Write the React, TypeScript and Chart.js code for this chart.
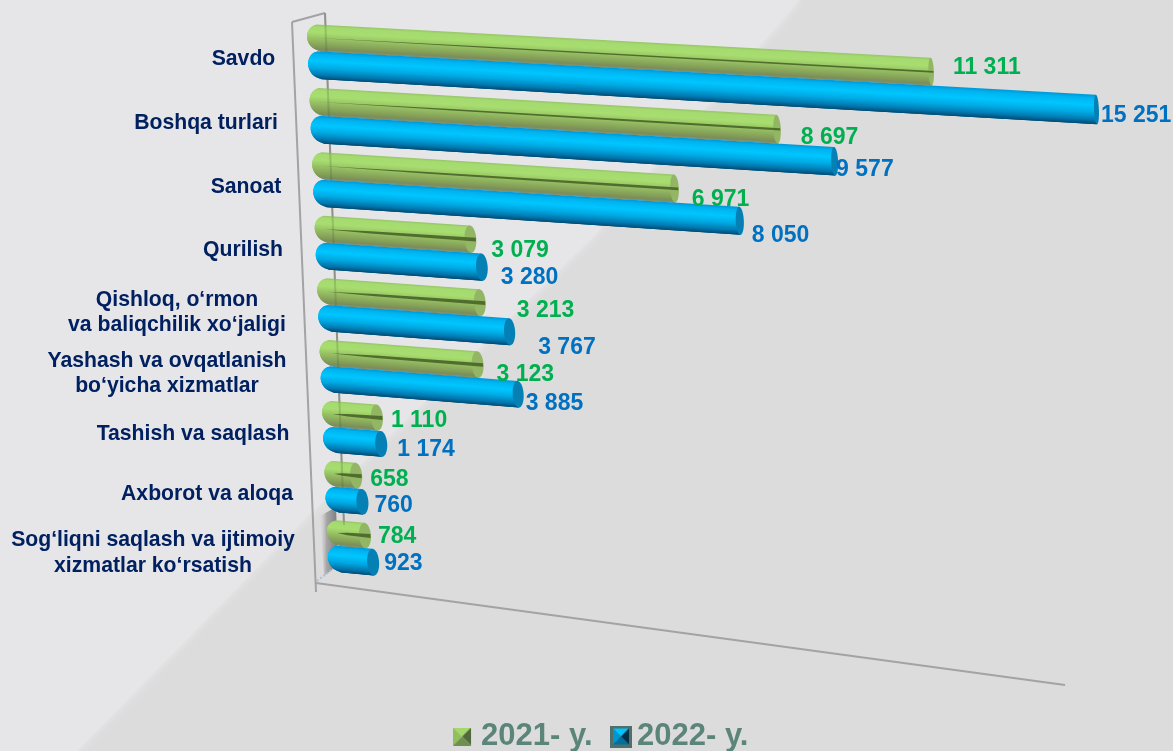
import React, { useEffect, useRef } from "react";
import { Chart, registerables } from "chart.js";

Chart.register(...registerables);

const categories: (string | string[])[] = [
  "Savdo",
  "Boshqa turlari",
  "Sanoat",
  "Qurilish",
  ["Qishloq, o‘rmon", "va baliqchilik xo‘jaligi"],
  ["Yashash va ovqatlanish", "bo‘yicha xizmatlar"],
  "Tashish va saqlash",
  "Axborot va aloqa",
  ["Sog‘liqni saqlash va ijtimoiy", "xizmatlar ko‘rsatish"],
];
const values2021 = [11311, 8697, 6971, 3079, 3213, 3123, 1110, 658, 784];
const values2022 = [15251, 9577, 8050, 3280, 3767, 3885, 1174, 760, 923];

// label placement, relative to each bar's tip
const nudge2021 = [[19, -4], [20, 8], [13, 11], [15, 11], [31, 8], [13, 10], [8, 3], [8, 3], [7, 1]];
const nudge2022 = [[2, 6], [-2, 8], [8, 15], [13, 10], [23, 15], [2, 9], [10, 5], [6, 3], [5, 1]];
const categoryCentreX = [243.5, 206, 246, 243, 177, 167, 193, 207, 153];

const FONT = '"Liberation Sans", Arial, sans-serif';
type Stop = [number, number[]];
const greenRamp: Stop[] = [
  [0, [150, 195, 105]], [0.08, [165, 218, 112]], [0.3, [168, 222, 112]],
  [0.55, [150, 190, 100]], [0.8, [133, 160, 88]], [0.94, [122, 140, 92]], [1, [140, 150, 115]],
];
const blueRamp: Stop[] = [
  [0, [0, 150, 215]], [0.12, [0, 180, 240]], [0.35, [0, 198, 255]],
  [0.6, [0, 170, 228]], [0.85, [0, 120, 175]], [1, [0, 75, 115]],
];

function rampColor(ramp: Stop[], t: number) {
  for (let i = 1; i < ramp.length; i++) {
    if (t <= ramp[i][0]) {
      const [a, ca] = ramp[i - 1];
      const [b, cb] = ramp[i];
      const k = (t - a) / (b - a);
      return `rgb(${ca.map((c, j) => Math.round(c + (cb[j] - c) * k)).join(",")})`;
    }
  }
  return `rgb(${ramp[ramp.length - 1][1].join(",")})`;
}

// Perspective of the reference: takes a position from the library's scales
// (dx = pixels from the zero of the value axis, Y = pixels on the category axis).
function project(area: any, dx: number, Y: number) {
  const u = ((Y - area.top) * 556) / area.height + 20;
  const t = Math.min(1, Math.max(0, (u - 51) / 494.4));
  const y0 = u + 26 * t * (1 - t);
  const warped = dx + 44 * Math.exp(-(((dx - 570) / 150) ** 2));
  const slope = 0.055 + 0.00007 * (y0 - 37);
  return { x: 311 + 0.04 * (y0 - 36) + warped, y: y0 + slope * warped };
}

function poly(ctx: CanvasRenderingContext2D, pts: { x: number; y: number }[]) {
  ctx.beginPath();
  pts.forEach((p, i) => (i ? ctx.lineTo(p.x, p.y) : ctx.moveTo(p.x, p.y)));
  ctx.closePath();
}

function drawCylinder(ctx: CanvasRenderingContext2D, area: any, el: any, ramp: Stop[], cap: string, isGreen: boolean) {
  const len = el.x - el.base;
  const h = el.height;
  const Ytop = el.y - h / 2;
  const rx = Math.min(13, (len + 4) * 0.3);
  const rc = Math.min(6, Math.max(2.8, 7.5 - len / 100));
  const end = len - rc;
  const N = 30;
  for (let i = 0; i < N; i++) {
    const a = Ytop + (h * i) / N;
    // each strip runs well under the next one, so no background leaks through the seams
    const b = Math.min(Ytop + h, a + 2.5);
    const tm = (i + 0.5) / N;
    const half = Math.sqrt(Math.max(0, 1 - (2 * tm - 1) ** 2));
    const tmB = Math.min(1, tm + 2.5 / h);
    const halfB = Math.sqrt(Math.max(0, 1 - (2 * tmB - 1) ** 2));
    const xs = -4 + rx * (1 - half);
    const xsB = -4 + rx * (1 - (tm < 0.5 ? Math.max(half, halfB) : halfB));
    ctx.fillStyle = rampColor(ramp, tm);
    poly(ctx, [project(area, xs, a), project(area, end, a), project(area, end, b), project(area, xsB, b)]);
    ctx.fill();
  }
  const pts: { x: number; y: number }[] = [];
  for (let i = 0; i < 36; i++) {
    const th = (i / 36) * Math.PI * 2;
    pts.push(project(area, end + rc * Math.cos(th), el.y + (h / 2) * Math.sin(th)));
  }
  ctx.fillStyle = cap;
  poly(ctx, pts);
  ctx.fill();
  if (isGreen) {
    // the seam on the green tubes is a thin wedge, thickest towards the tip
    const w = Math.min(4.5, Math.max(1.8, 4.5 - len / 200));
    const x0 = rx * 0.5;
    const x1 = len - 0.5;
    const xm = x0 + (x1 - x0) * 0.3;
    ctx.fillStyle = "#4f6d2c";
    poly(ctx, [
      project(area, x0, el.y),
      project(area, xm, el.y - w * 0.32),
      project(area, x1, el.y - w / 2),
      project(area, x1, el.y + w / 2),
      project(area, xm, el.y + w * 0.32),
    ]);
    ctx.fill();
  }
}

function line(ctx: CanvasRenderingContext2D, a: number[], b: number[]) {
  ctx.beginPath();
  ctx.moveTo(a[0], a[1]);
  ctx.lineTo(b[0], b[1]);
  ctx.stroke();
}

const backdrop = {
  id: "backdrop",
  beforeDraw(chart: any) {
    const { ctx, width, height } = chart;
    ctx.save();
    ctx.fillStyle = "#dcdcdc";
    ctx.fillRect(0, 0, width, height);
    ctx.shadowColor = "#eaeaec";
    ctx.shadowBlur = 8;
    ctx.fillStyle = "#e6e6e9";
    ctx.beginPath();
    ctx.moveTo(0, 0);
    ctx.lineTo(800, 0);
    ctx.lineTo(593, 237);
    ctx.lineTo(307, 517);
    ctx.lineTo(77, 751);
    ctx.lineTo(0, 751);
    ctx.closePath();
    ctx.fill();
    ctx.restore();
  },
};

const frameAndBars = {
  id: "frameAndBars",
  beforeDatasetsDraw(chart: any) {
    const { ctx, chartArea } = chart;
    ctx.save();
    // shadow in the corner of the back wall
    const g = ctx.createLinearGradient(338, 0, 319, 0);
    g.addColorStop(0, "rgba(110,110,110,0.9)");
    g.addColorStop(0.6, "rgba(130,130,130,0.6)");
    g.addColorStop(1, "rgba(215,215,215,0)");
    ctx.fillStyle = g;
    ctx.beginPath();
    ctx.moveTo(320, 516);
    ctx.lineTo(336, 507);
    ctx.lineTo(338, 565);
    ctx.lineTo(324, 576);
    ctx.closePath();
    ctx.fill();
    ctx.strokeStyle = "#a3a3a3";
    ctx.lineWidth = 2;
    line(ctx, [292, 22], [316, 592]);
    line(ctx, [292, 22], [325, 13]);
    line(ctx, [325, 13], [344, 525]);
    line(ctx, [316, 583], [1065, 685]);
    ctx.strokeStyle = "rgba(170,190,215,0.9)";
    ctx.setLineDash([2, 2]);
    line(ctx, [317, 581], [334, 568]);
    ctx.setLineDash([]);

    chart.getDatasetMeta(0).data.forEach((el: any) => drawCylinder(ctx, chartArea, el, greenRamp, "#92b663", true));
    // the back wall shows through the green tubes
    ctx.strokeStyle = "rgba(70,90,50,0.22)";
    ctx.lineWidth = 2;
    line(ctx, [325, 13], [344, 525]);
    chart.getDatasetMeta(1).data.forEach((el: any) => drawCylinder(ctx, chartArea, el, blueRamp, "#0580b5", false));
    ctx.restore();
  },
  beforeDatasetDraw() {
    return false;
  },
  afterDatasetsDraw(chart: any) {
    const { ctx, chartArea, data } = chart;
    ctx.save();
    ctx.textBaseline = "middle";
    ctx.textAlign = "left";
    ctx.font = `bold 23px ${FONT}`;
    [
      { idx: 0, color: "#00b050", nudge: nudge2021 },
      { idx: 1, color: "#0070c0", nudge: nudge2022 },
    ].forEach(({ idx, color, nudge }) => {
      ctx.fillStyle = color;
      chart.getDatasetMeta(idx).data.forEach((el: any, i: number) => {
        const tip = project(chartArea, el.x - el.base, el.y);
        const txt = String(data.datasets[idx].data[i]).replace(/\B(?=(\d{3})+$)/g, " ");
        ctx.fillText(txt, tip.x + nudge[i][0], tip.y + nudge[i][1]);
      });
    });
    // category labels follow the category axis
    const yScale = chart.scales.y;
    ctx.font = `bold 21.2px ${FONT}`;
    ctx.textAlign = "center";
    ctx.fillStyle = "#002060";
    (data.labels as (string | string[])[]).forEach((lab, i) => {
      const y = project(chartArea, 0, yScale.getPixelForValue(i)).y + 8;
      const lines = Array.isArray(lab) ? lab : [lab];
      lines.forEach((t, j) => ctx.fillText(t, categoryCentreX[i], y + (j - (lines.length - 1) / 2) * 25.5));
    });
    ctx.restore();
  },
  afterLayout(chart: any) {
    const legend = chart.legend;
    if (legend) {
      const h = legend.bottom - legend.top;
      legend.top = 693;
      legend.bottom = 693 + h;
    }
  },
};

function bevel(size: number, canvasW: number, border: string | null, top: string, left: string, right: string, bottom: string) {
  const c = document.createElement("canvas");
  c.width = canvasW;
  c.height = size;
  const x = c.getContext("2d")!;
  let inset = 0;
  if (border) {
    x.fillStyle = border;
    x.fillRect(0, 0, size, size);
    inset = 3;
  }
  const a = inset;
  const b = size - inset;
  const m = size / 2;
  const tri = (col: string, p: number[][]) => {
    x.fillStyle = col;
    x.beginPath();
    x.moveTo(p[0][0], p[0][1]);
    x.lineTo(p[1][0], p[1][1]);
    x.lineTo(m, m);
    x.closePath();
    x.fill();
  };
  tri(top, [[a, a], [b, a]]);
  tri(left, [[a, a], [a, b]]);
  tri(right, [[b, a], [b, b]]);
  tri(bottom, [[a, b], [b, b]]);
  return c;
}

export default function App() {
  const ref = useRef<HTMLCanvasElement>(null);
  useEffect(() => {
    const marker2021 = bevel(18, 24, null, "#a5d86a", "#8fc05e", "#4f6b3c", "#6f8f50");
    const marker2022 = bevel(22, 22, "#4f6f6c", "#00c4ff", "#0096d0", "#062f45", "#006f9f");
    const chart = new Chart(ref.current!, {
      type: "bar",
      data: {
        labels: categories as any,
        datasets: [
          { label: "2021- y.", data: values2021, backgroundColor: "#a5d86a", barThickness: 27.5 },
          { label: "2022- y.", data: values2022, backgroundColor: "#00c0ff", barThickness: 27.5 },
        ],
      },
      options: {
        indexAxis: "y",
        animation: false,
        responsive: false,
        layout: { padding: { left: 197, right: 157, top: 20, bottom: 88 } },
        scales: {
          x: { display: false, min: 0, max: 16000 },
          y: { display: false },
        },
        plugins: {
          tooltip: { enabled: false },
          legend: {
            position: "bottom",
            labels: {
              usePointStyle: true,
              pointStyleWidth: 1,
              padding: 28,
              color: "#5a8578",
              font: { family: FONT, size: 31, weight: "bold" },
              generateLabels: () => [
                { text: "2021- y.", pointStyle: marker2021, fontColor: "#5a8578", datasetIndex: 0, lineWidth: 0 },
                { text: "2022- y.", pointStyle: marker2022, fontColor: "#5a8578", datasetIndex: 1, lineWidth: 0 },
              ],
            },
          },
        },
      } as any,
      plugins: [backdrop, frameAndBars],
    });
    return () => chart.destroy();
  }, []);
  return (
    <div style={{ position: "fixed", left: 0, top: 0, width: 1173, height: 751 }}>
      <canvas ref={ref} width={1173} height={751} style={{ display: "block", width: 1173, height: 751 }} />
    </div>
  );
}
